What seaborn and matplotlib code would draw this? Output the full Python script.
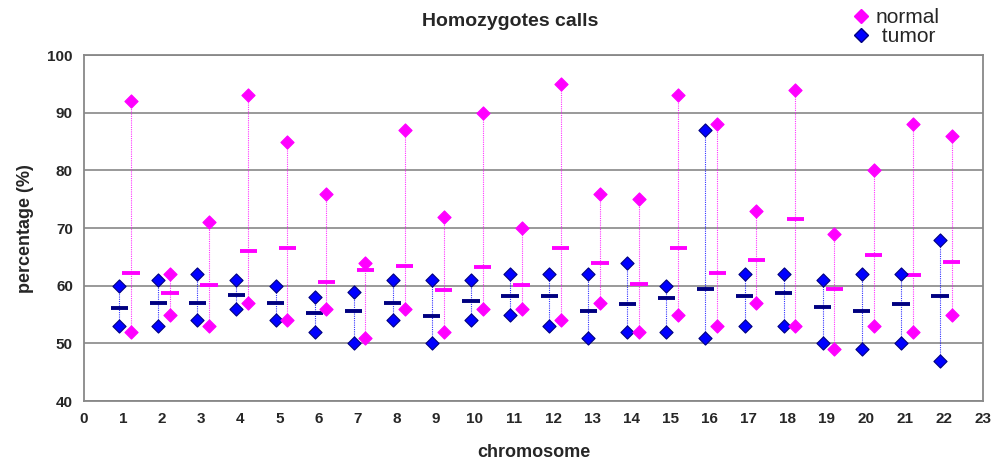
import numpy as np
import pandas as pd
import matplotlib
matplotlib.use("Agg")
import matplotlib.pyplot as plt
import seaborn as sns

# -----------------------------
# data
# -----------------------------
chromosomes = list(range(1, 23))
tumor_max = [60, 61, 62, 61, 60, 58, 59, 61, 61, 61, 62, 62, 62, 64, 60, 87, 62, 62, 61, 62, 62, 68]
tumor_min = [53, 53, 54, 56, 54, 52, 50, 54, 50, 54, 55, 53, 51, 52, 52, 51, 53, 53, 50, 49, 50, 47]
tumor_mean = [56.1, 57.1, 57.1, 58.4, 57.1, 55.3, 55.6, 57.1, 54.8, 57.3, 58.2, 58.2, 55.6, 56.8, 57.9, 59.5, 58.2, 58.7, 56.3, 55.6, 56.8, 58.2]
normal_max = [92, 62, 71, 93, 85, 76, 64, 87, 72, 90, 70, 95, 76, 75, 93, 88, 73, 94, 69, 80, 88, 86]
normal_min = [52, 55, 53, 57, 54, 56, 51, 56, 52, 56, 56, 54, 57, 52, 55, 53, 57, 53, 49, 53, 52, 55]
normal_mean = [62.2, 58.8, 60.1, 66.1, 66.6, 60.6, 62.7, 63.5, 59.3, 63.2, 60.1, 66.6, 64.0, 60.3, 66.6, 62.2, 64.5, 71.6, 59.4, 65.3, 61.9, 64.2]

tumor_color = "#0000FF"
tumor_dark = "#000080"
normal_color = "#FF00FF"

df = pd.DataFrame({
    "chromosome": chromosomes * 2,
    "group": ["tumor"] * 22 + ["normal"] * 22,
    "max": tumor_max + normal_max,
    "min": tumor_min + normal_min,
    "mean": tumor_mean + normal_mean,
})
offsets = {"tumor": -0.1, "normal": 0.2}
df["x"] = df["chromosome"] + df["group"].map(offsets)

sns.set_style("white")
plt.rcParams["font.family"] = ["Liberation Sans", "DejaVu Sans"]

fig = plt.figure(figsize=(10.05, 4.67), dpi=100)
ax = fig.add_axes([0.0836, 0.141, 0.8945, 0.741])

for group, col, dark in [("tumor", tumor_color, tumor_dark), ("normal", normal_color, normal_color)]:
    sub = df[df["group"] == group]
    ax.vlines(sub["x"], sub["min"], sub["max"], colors=col, linestyles=(0, (1, 1)),
              linewidth=0.8, alpha=0.8, zorder=2)
    ax.hlines(sub["mean"], sub["x"] - 0.22, sub["x"] + 0.22, colors=dark, linewidth=2.8, zorder=3)

pts = df.melt(id_vars=["x", "group"], value_vars=["max", "min"], value_name="value")
for group, col, edge in [("tumor", tumor_color, tumor_dark), ("normal", normal_color, normal_color)]:
    sns.scatterplot(data=pts[pts["group"] == group], x="x", y="value", marker="D", s=45,
                    color=col, edgecolor=edge, linewidth=0.8, ax=ax, zorder=4, legend=False)

ax.set_xlim(0, 23)
ax.set_ylim(40, 100)
ax.set_xticks(range(0, 24))
ax.set_yticks(range(40, 101, 10))
ax.yaxis.grid(True, color="#888888", linewidth=1.2)
ax.set_axisbelow(True)
for s in ax.spines.values():
    s.set_color("#888888")
    s.set_linewidth(1.3)
ax.tick_params(axis="both", direction="out", length=4, width=1, color="#888888",
               labelsize=11, pad=4)
for lab in ax.get_xticklabels() + ax.get_yticklabels():
    lab.set_fontweight("bold")

ax.set_xlabel("chromosome", fontsize=13, fontweight="bold", labelpad=13)
ax.set_ylabel("percentage (%)", fontsize=13, fontweight="bold", labelpad=10)
fig.text(0.508, 0.955, "Homozygotes calls", ha="center", va="center", fontsize=14, fontweight="bold")

# legend outside the axes, top right
handles = [
    plt.Line2D([], [], marker="D", linestyle="", color=normal_color, markersize=7, label="normal"),
    plt.Line2D([], [], marker="D", linestyle="", color=tumor_color, markeredgecolor=tumor_dark,
               markersize=7, label=" tumor"),
]
fig.legend(handles=handles, loc="upper left", bbox_to_anchor=(0.836, 1.0), frameon=False,
           fontsize=15, handletextpad=0.1, labelspacing=0.0, borderaxespad=0, handlelength=1.2)

fig.savefig("out.png", dpi=100)
